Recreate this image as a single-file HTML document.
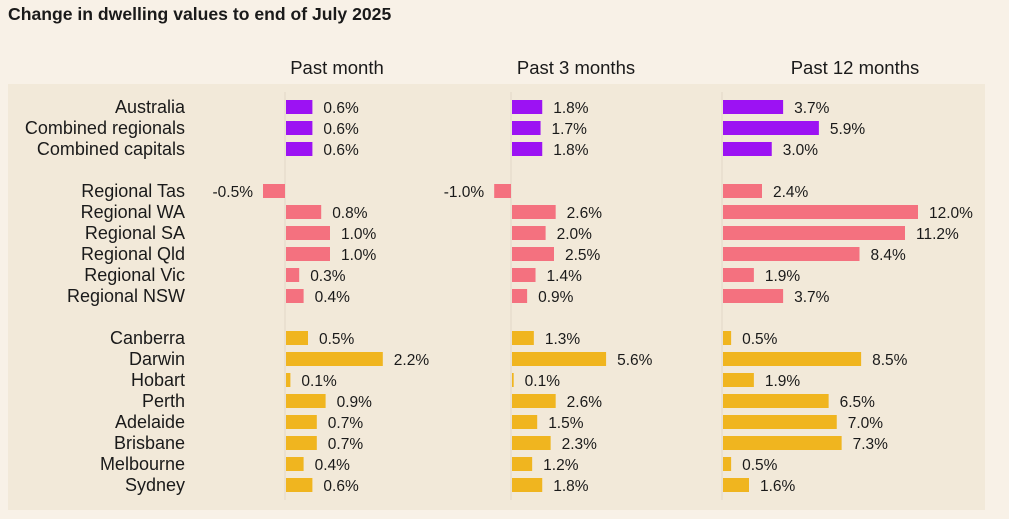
<!DOCTYPE html>
<html><head><meta charset="utf-8"><style>
body{margin:0;background:#f8f1e7;font-family:"Liberation Sans",sans-serif;}
svg{display:block}
</style></head><body>
<svg id="c" width="1009" height="519">
<rect x="0" y="0" width="1009" height="519" fill="#f8f1e7"/>
<rect x="8" y="84" width="977" height="426" fill="#f2e9d9"/>
<text x="8" y="20" font-size="17.6" font-weight="bold" fill="#1a1a1a">Change in dwelling values to end of July 2025</text>
</svg>
<script>
const categories=["Australia","Combined regionals","Combined capitals","Regional Tas","Regional WA","Regional SA","Regional Qld","Regional Vic","Regional NSW","Canberra","Darwin","Hobart","Perth","Adelaide","Brisbane","Melbourne","Sydney"];
const groups=[0,0,0,1,1,1,1,1,1,2,2,2,2,2,2,2,2];
const pastMonth=[0.6,0.6,0.6,-0.5,0.8,1.0,1.0,0.3,0.4,0.5,2.2,0.1,0.9,0.7,0.7,0.4,0.6];
const past3Months=[1.8,1.7,1.8,-1.0,2.6,2.0,2.5,1.4,0.9,1.3,5.6,0.1,2.6,1.5,2.3,1.2,1.8];
const past12Months=[3.7,5.9,3.0,2.4,12.0,11.2,8.4,1.9,3.7,0.5,8.5,1.9,6.5,7.0,7.3,0.5,1.6];
const panelTitles=["Past month","Past 3 months","Past 12 months"];
const colors=["#9c12f3","#f4717f","#f0b51f"];
const svg=document.getElementById('c');const NS="http://www.w3.org/2000/svg";
function mk(t,a,txt){const e=document.createElementNS(NS,t);for(const k in a)e.setAttribute(k,a[k]);if(txt!==undefined)e.textContent=txt;svg.appendChild(e);return e;}
const panels=[{zero:285,scale:44,data:pastMonth,title:337},{zero:511,scale:16.8,data:past3Months,title:576},{zero:722,scale:16.25,data:past12Months,title:855}];
function yRow(i){return 107+i*21+groups[i]*21;}
categories.forEach((c,i)=>{
  const t=mk('text',{x:185,y:yRow(i)+6,'font-size':18,'text-anchor':'end',fill:'#1a1a1a'},c);
  
  
});
panels.forEach((p,pi)=>{
  const h=mk('text',{x:p.title,y:74,'font-size':18.5,'text-anchor':'middle',fill:'#1a1a1a'},panelTitles[pi]);
  
  
  const ax=mk('line',{x1:p.zero,x2:p.zero,y1:92,y2:500,stroke:'#e3d8c6','stroke-width':1});
  
  
  p.data.forEach((v,i)=>{
    const w=Math.abs(v)*p.scale;const x=v<0?p.zero-w:p.zero+1;const y=yRow(i);
    const r=mk('rect',{x:x,y:y-7,width:Math.max(w,1.5),height:14,fill:colors[groups[i]]});
    
    
    const lx=v<0?p.zero-w-10:p.zero+w+12;
    const l=mk('text',{x:lx,y:y+6,'font-size':15.5,'text-anchor':v<0?'end':'start',fill:'#1a1a1a'},v.toFixed(1)+'%');
    
    
  });
});
</script>
</body></html>
